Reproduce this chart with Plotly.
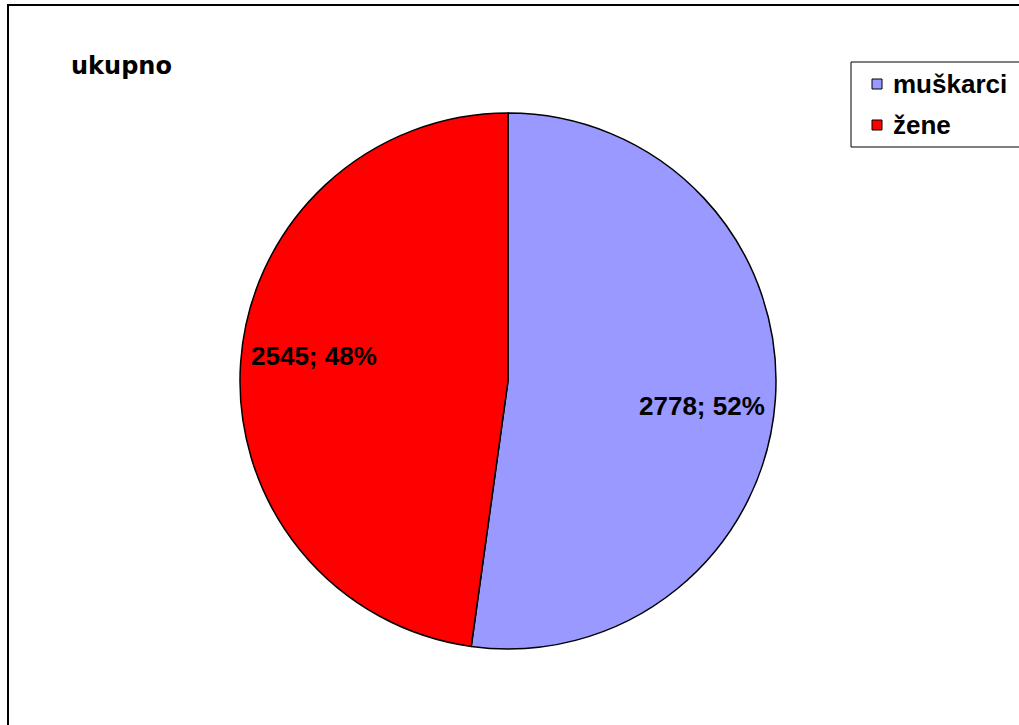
import math
import plotly.graph_objects as go

# Data
labels = ["muškarci", "žene"]
values = [2778, 2545]
colors = ["#9999FF", "#FF0000"]
title_text = "ukupno"

W, H = 1019, 725

def px(x):
    return x / W

def py(y):
    return 1 - y / H

# Pie geometry (pixels)
cx, cy, R = 508, 381, 268

fig = go.Figure()
fig.add_trace(go.Pie(
    labels=labels,
    values=values,
    marker=dict(colors=colors, line=dict(color="#000000", width=1.5)),
    sort=False,
    direction="clockwise",
    rotation=0,
    textinfo="none",
    showlegend=False,
    domain=dict(x=[px(cx - R), px(cx + R)], y=[py(cy + R), py(cy - R)]),
))

# Data labels placed near each slice's mid-angle
total = sum(values)
annotations = []
start = 0.0
for lab, val in zip(labels, values):
    frac = val / total
    mid = (start + frac / 2) * 2 * math.pi + math.radians(3.5)
    start += frac
    r_lab = 0.73 * R
    lx = cx + r_lab * math.sin(mid)
    ly = cy - r_lab * math.cos(mid)
    annotations.append(dict(
        x=px(lx), y=py(ly), xref="paper", yref="paper",
        text=f"{val}; {frac:.0%}", showarrow=False,
        xanchor="center", yanchor="middle",
        font=dict(family="Liberation Sans, Arial", size=26, color="#000000", weight="bold"),
    ))

# Chart title
annotations.append(dict(
    x=px(69), y=py(66), xref="paper", yref="paper",
    text=title_text, showarrow=False, xanchor="left", yanchor="middle",
    font=dict(family="DejaVu Sans", size=24, color="#000000", weight="bold"),
))

shapes = [
    # outer chart frame
    dict(type="rect", xref="paper", yref="paper",
         x0=px(8), y0=py(740), x1=px(1040), y1=py(5),
         line=dict(color="#000000", width=2), fillcolor="rgba(0,0,0,0)"),
    # legend box
    dict(type="rect", xref="paper", yref="paper",
         x0=px(851), y0=py(147), x1=px(1040), y1=py(62),
         line=dict(color="#000000", width=1), fillcolor="#FFFFFF"),
]

# Legend entries
entry_y = [84, 125]
for lab, col, ey in zip(labels, colors, entry_y):
    shapes.append(dict(type="rect", xref="paper", yref="paper",
                       x0=px(872), y0=py(ey + 5), x1=px(882), y1=py(ey - 5),
                       line=dict(color="#000000", width=1), fillcolor=col))
    annotations.append(dict(
        x=px(891), y=py(ey), xref="paper", yref="paper",
        text=lab, showarrow=False, xanchor="left", yanchor="middle",
        font=dict(family="Liberation Sans, Arial", size=26, color="#000000", weight="bold"),
    ))

fig.update_layout(
    width=W, height=H,
    margin=dict(l=0, r=0, t=0, b=0),
    paper_bgcolor="#FFFFFF",
    plot_bgcolor="#FFFFFF",
    annotations=annotations,
    shapes=shapes,
)

fig.write_html("out.html")
